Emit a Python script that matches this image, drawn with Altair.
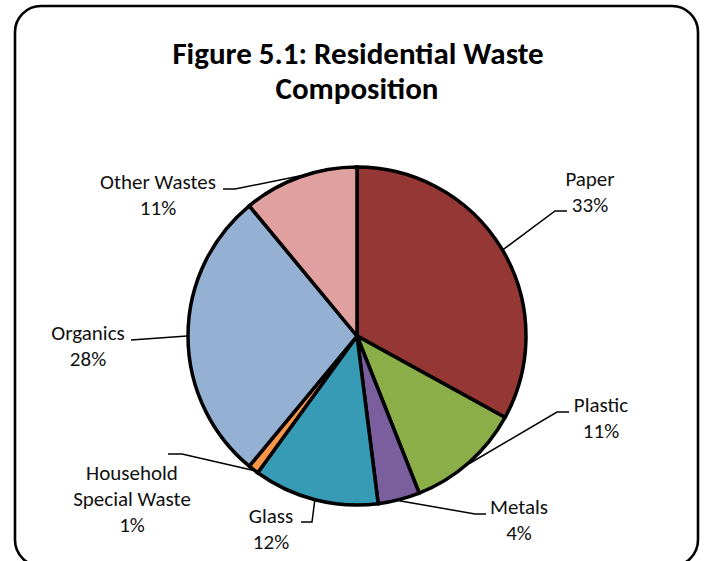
import math
import altair as alt
import pandas as pd

# ---- data ----
categories = ["Paper", "Plastic", "Metals", "Glass", "Household Special Waste", "Organics", "Other Wastes"]
values = [33, 11, 4, 12, 1, 28, 11]
label_lines = [
    ["Paper", "33%"],
    ["Plastic", "11%"],
    ["Metals", "4%"],
    ["Glass", "12%"],
    ["Household", "Special Waste", "1%"],
    ["Organics", "28%"],
    ["Other Wastes", "11%"],
]
colors = ["#953735", "#8BAE48", "#7B5E9E", "#389BB6", "#F79646", "#94B1D4", "#E0A09F"]
title_lines = ["Figure 5.1: Residential Waste", "Composition"]

# ---- layout (pixels) ----
W, H = 704, 561
CX, CY, R = 357, 336, 169
FONT = "Carlito, Lato, sans-serif"
# label anchor (centre x, first baseline y) and leader elbow points
label_pos = [(590, 186), (601, 412), (519, 514), (271, 523), (132, 480), (88, 340), (158, 189)]
leader_pts = [
    [(567, 211), (555, 211)],
    [(569, 412), (557, 412)],
    [(486, 514), (475, 514)],
    [(301, 522), (312, 522)],
    [(168, 454), (182, 454)],
    [(131, 340)],
    [(223, 189), (235, 189)],
]

total = sum(values)
pie_df = pd.DataFrame({"category": categories, "value": values, "idx": list(range(len(values)))})

# text rows
text_rows = []
for i, (lines, (lx, ly)) in enumerate(zip(label_lines, label_pos)):
    for j, t in enumerate(lines):
        text_rows.append({"x": lx, "y": ly + j * 26, "text": t})
text_df = pd.DataFrame(text_rows)

# leader lines: elbow points from layout, end point on the arc at the slice's mid-angle
line_rows = []
cum = 0
for i, v in enumerate(values):
    mid = (cum + v / 2) / total * 2 * math.pi
    cum += v
    ax = CX + (R + 1) * math.sin(mid)
    ay = CY - (R + 1) * math.cos(mid)
    pts = leader_pts[i] + [(ax, ay)]
    for k, (px, py) in enumerate(pts):
        line_rows.append({"g": categories[i], "k": k, "x": px, "y": py})
line_df = pd.DataFrame(line_rows)

title_df = pd.DataFrame({"text": title_lines, "x": [358, 357], "y": [64, 99]})

xs = alt.Scale(domain=[0, W], range=[0, W], nice=False, zero=False)
ys = alt.Scale(domain=[0, H], range=[0, H], nice=False, zero=False)

frame = alt.Chart(pd.DataFrame({"a": [0]})).mark_rect(
    cornerRadius=26, fill="white", stroke="black", strokeWidth=2.6
).encode(x=alt.value(15), x2=alt.value(698), y=alt.value(6), y2=alt.value(566))

pie = alt.Chart(pie_df).mark_arc(outerRadius=R, stroke="black", strokeWidth=3.5).encode(
    theta=alt.Theta("value:Q", stack=True),
    color=alt.Color("category:N", scale=alt.Scale(domain=categories, range=colors), legend=None),
    order=alt.Order("idx:Q", sort="ascending"),
    x=alt.value(CX),
    y=alt.value(CY),
)

leaders = alt.Chart(line_df).mark_line(color="black", strokeWidth=1.5).encode(
    x=alt.X("x:Q", scale=xs, axis=None),
    y=alt.Y("y:Q", scale=ys, axis=None),
    detail="g:N",
    order="k:Q",
)

labels = alt.Chart(text_df).mark_text(
    font=FONT, fontSize=21, color="#111111", align="center", baseline="alphabetic"
).encode(
    x=alt.X("x:Q", scale=xs, axis=None),
    y=alt.Y("y:Q", scale=ys, axis=None),
    text="text:N",
)

title = alt.Chart(title_df).mark_text(
    font=FONT, fontSize=31, fontWeight="bold", color="black", align="center", baseline="alphabetic"
).encode(
    x=alt.X("x:Q", scale=xs, axis=None),
    y=alt.Y("y:Q", scale=ys, axis=None),
    text="text:N",
)

chart = alt.layer(frame, pie, leaders, labels, title).properties(
    width=W, height=H, padding=0, autosize="none", background="white"
).configure_view(stroke=None)

chart.save("out.html", embed_options={"renderer": "svg", "actions": False})
